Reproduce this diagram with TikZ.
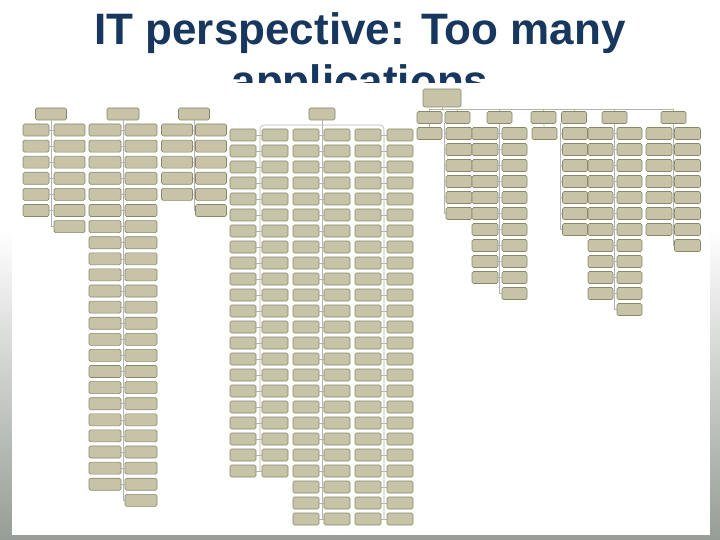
\documentclass[tikz,border=0pt]{standalone}
\usepackage{fontspec}
\setmainfont{Liberation Sans}
\definecolor{titleblue}{RGB}{23,55,94}
\definecolor{appfill}{RGB}{198,195,167}
\definecolor{appedge}{RGB}{138,134,108}
\definecolor{slidegray}{RGB}{150,156,150}
\begin{document}
\begin{tikzpicture}[x=1pt, y=-1pt,
    every node/.style={inner sep=0pt},
    app/.style={draw=appedge, fill=appfill, rounded corners=1.5pt, line width=0.6pt, minimum width=26pt, minimum height=12pt},
    link/.style={draw=gray!60, line width=0.6pt},
    title/.style={text=titleblue, font=\fontsize{44}{52}\selectfont\bfseries}]
    \useasboundingbox (0,0) rectangle (720,540);

    % Slide
    \shade[top color=white, bottom color=slidegray] (0,230) rectangle (720,540);
    \node[title, anchor=base] (ttl1) at (360,45) {IT perspective: Too many};
    \node[title, anchor=base] (ttl2) at (360,97) {applications};
    \fill[white] (12,83) rectangle (710,535);

    % Learning / Teaching
    \node[app, minimum width=31pt] (lt) at (51,114) {};
    \foreach \i in {1,...,6} {
        \node[app] (lt-a-\i) at ({36},{130+16.1*(\i-1)}) {};
        \draw[link] (lt-a-\i) -- (lt-a-\i -| lt);
    }
    \foreach \i in {1,...,7} {
        \node[app, minimum width=31pt] (lt-b-\i) at ({69.5},{130+16.1*(\i-1)}) {};
        \draw[link] (lt-b-\i) -- (lt-b-\i -| lt);
    }
    \draw[link] (lt) -- (lt |- lt-b-7);

    % Office infrastructure
    \node[app, minimum width=32pt] (oi) at (123,114) {};
    \foreach \i in {1,...,23} {
        \node[app, minimum width=32pt] (oi-a-\i) at ({105},{130+16.1*(\i-1)}) {};
        \draw[link] (oi-a-\i) -- (oi-a-\i -| oi);
    }
    \foreach \i in {1,...,24} {
        \node[app, minimum width=32pt] (oi-b-\i) at ({141},{130+16.1*(\i-1)}) {};
        \draw[link] (oi-b-\i) -- (oi-b-\i -| oi);
    }
    \draw[link] (oi) -- (oi |- oi-b-24);

    % Team management
    \node[app, minimum width=31pt] (tm) at (194,114) {};
    \foreach \i in {1,...,5} {
        \node[app, minimum width=31pt] (tm-a-\i) at ({177},{130+16.1*(\i-1)}) {};
        \draw[link] (tm-a-\i) -- (tm-a-\i -| tm);
    }
    \foreach \i in {1,...,6} {
        \node[app, minimum width=31pt] (tm-b-\i) at ({211},{130+16.1*(\i-1)}) {};
        \draw[link] (tm-b-\i) -- (tm-b-\i -| tm);
    }
    \draw[link] (tm) -- (tm |- tm-b-6);

    % Other
    \node[app] (ot) at (322,114) {};
    \coordinate (ot-l) at (260,125);
    \coordinate (ot-r) at (384,125);
    \foreach \i in {1,...,22} {
        \node[app] (ot-a-\i) at ({243},{135+16*(\i-1)}) {};
        \node[app] (ot-b-\i) at ({275},{135+16*(\i-1)}) {};
        \draw[link] (ot-a-\i) -- (ot-a-\i -| ot-l);
        \draw[link] (ot-b-\i) -- (ot-b-\i -| ot-l);
    }
    \foreach \i in {1,...,25} {
        \node[app] (ot-c-\i) at ({306},{135+16*(\i-1)}) {};
        \node[app] (ot-d-\i) at ({337},{135+16*(\i-1)}) {};
        \node[app] (ot-e-\i) at ({368},{135+16*(\i-1)}) {};
        \node[app] (ot-f-\i) at ({400},{135+16*(\i-1)}) {};
        \draw[link] (ot-c-\i) -- (ot-c-\i -| ot);
        \draw[link] (ot-d-\i) -- (ot-d-\i -| ot);
        \draw[link] (ot-e-\i) -- (ot-e-\i -| ot-r);
        \draw[link] (ot-f-\i) -- (ot-f-\i -| ot-r);
    }
    \draw[link] (ot) -- (ot |- ot-c-25);
    \draw[link, rounded corners=4pt] (ot-a-22 -| ot-l) -- (ot-l) -- (ot-r) -- (ot-f-25 -| ot-r);

    % Exit
    \node[app, minimum width=38pt, minimum height=18pt] (ex) at (442,98) {};
    \coordinate (bus-l) at (429.5,109);
    \coordinate (bus-r) at (673.5,109);
    \draw[link] (ex) -- (ex |- bus-l);
    \draw[link] (bus-l) -- (bus-r);
    \foreach \n/\x in {1/429.5, 2/457.5, 3/499.5, 4/543.5, 5/574, 6/614.5, 7/673.5} {
        \node[app, minimum width=25pt] (h\n) at (\x,117.5) {};
        \draw[link] (h\n) -- (h\n |- bus-l);
    }

    % single children
    \node[app, minimum width=25pt] (h1-1) at (429.5,133.5) {};
    \node[app, minimum width=25pt] (h4-1) at (544.5,133.5) {};
    \draw[link] (h1) -- (h1-1);
    \draw[link] (h4) -- (h4-1);

    % one column, trunk on the left
    \coordinate (h2-t) at (444,123.5);
    \foreach \i in {1,...,6} {
        \node[app] (h2-\i) at ({459},{133.5+16*(\i-1)}) {};
        \draw[link] (h2-\i) -- (h2-\i -| h2-t);
    }
    \draw[link] (h2-t) -- (h2-t |- h2-6);
    \coordinate (h5-t) at (560,123.5);
    \foreach \i in {1,...,7} {
        \node[app, minimum width=25pt] (h5-\i) at ({575},{133.5+16*(\i-1)}) {};
        \draw[link] (h5-\i) -- (h5-\i -| h5-t);
    }
    \draw[link] (h5-t) -- (h5-t |- h5-7);

    % two columns
    \foreach \i in {1,...,10} {
        \node[app] (h3-a-\i) at ({485},{133.5+16*(\i-1)}) {};
        \draw[link] (h3-a-\i) -- (h3-a-\i -| h3);
    }
    \foreach \i in {1,...,11} {
        \node[app, minimum width=25pt] (h3-b-\i) at ({514.5},{133.5+16*(\i-1)}) {};
        \draw[link] (h3-b-\i) -- (h3-b-\i -| h3);
    }
    \draw[link] (h3) -- (h3 |- h3-b-11);

    \foreach \i in {1,...,11} {
        \node[app, minimum width=25pt] (h6-a-\i) at ({600.5},{133.5+16*(\i-1)}) {};
        \draw[link] (h6-a-\i) -- (h6-a-\i -| h6);
    }
    \foreach \i in {1,...,12} {
        \node[app, minimum width=25pt] (h6-b-\i) at ({629.5},{133.5+16*(\i-1)}) {};
        \draw[link] (h6-b-\i) -- (h6-b-\i -| h6);
    }
    \draw[link] (h6) -- (h6 |- h6-b-12);

    \foreach \i in {1,...,7} {
        \node[app] (h7-a-\i) at ({659},{133.5+16*(\i-1)}) {};
        \draw[link] (h7-a-\i) -- (h7-a-\i -| h7);
    }
    \foreach \i in {1,...,8} {
        \node[app] (h7-b-\i) at ({687.5},{133.5+16*(\i-1)}) {};
        \draw[link] (h7-b-\i) -- (h7-b-\i -| h7);
    }
    \draw[link] (h7) -- (h7 |- h7-b-8);
\end{tikzpicture}
\end{document}
